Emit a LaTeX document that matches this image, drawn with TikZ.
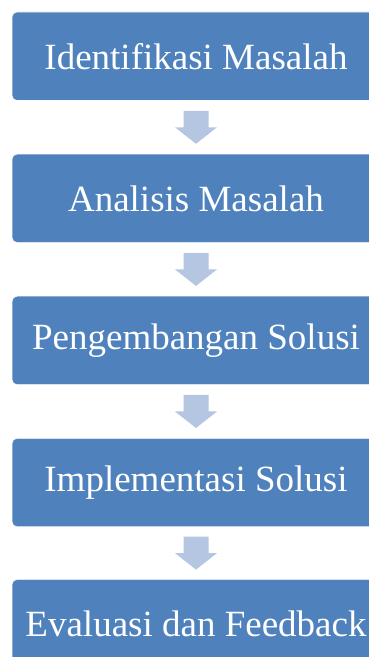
\documentclass[tikz,border=0pt]{standalone}
\usepackage{fontspec}
\setmainfont{Liberation Serif}
\usetikzlibrary{positioning,calc}
\definecolor{boxblue}{RGB}{79,129,189}
\definecolor{arrowblue}{RGB}{180,198,225}

\begin{document}
\begin{tikzpicture}[x=1pt,y=1pt,
		langkah/.style={draw=white,line width=0.6pt,fill=boxblue,rounded corners=5pt,
			minimum width=368pt,minimum height=88.5pt,inner sep=0pt,
			text=white,font=\fontsize{37}{44}\selectfont},
		panah/.style={fill=arrowblue,draw=none}]
			\clip (0,0) rectangle (369,657);
			% Tahapan
			\node[langkah] (identifikasi) at (196,600.75) {Identifikasi Masalah};
			\node[langkah,below=53pt of identifikasi] (analisis) {Analisis Masalah};
			\node[langkah,below=53pt of analisis] (pengembangan) {Pengembangan Solusi};
			\node[langkah,below=53pt of pengembangan] (implementasi) {Implementasi Solusi};
			\node[langkah,below=52pt of implementasi] (evaluasi) {Evaluasi dan Feedback};
			
			% Panah antar tahapan
			\foreach \a/\b in {identifikasi/analisis,analisis/pengembangan,pengembangan/implementasi,implementasi/evaluasi}{
				\coordinate (m) at ($(\a.south)!0.5!(\b.north)$);
				\fill[panah] ($(m)+(-12.5,16.5)$) -- ($(m)+(12.5,16.5)$) -- ($(m)+(12.5,0)$)
					-- ($(m)+(21,0)$) -- ($(m)+(0,-16.5)$) -- ($(m)+(-21,0)$)
					-- ($(m)+(-12.5,0)$) -- cycle;
			}
		\end{tikzpicture}
\end{document}
